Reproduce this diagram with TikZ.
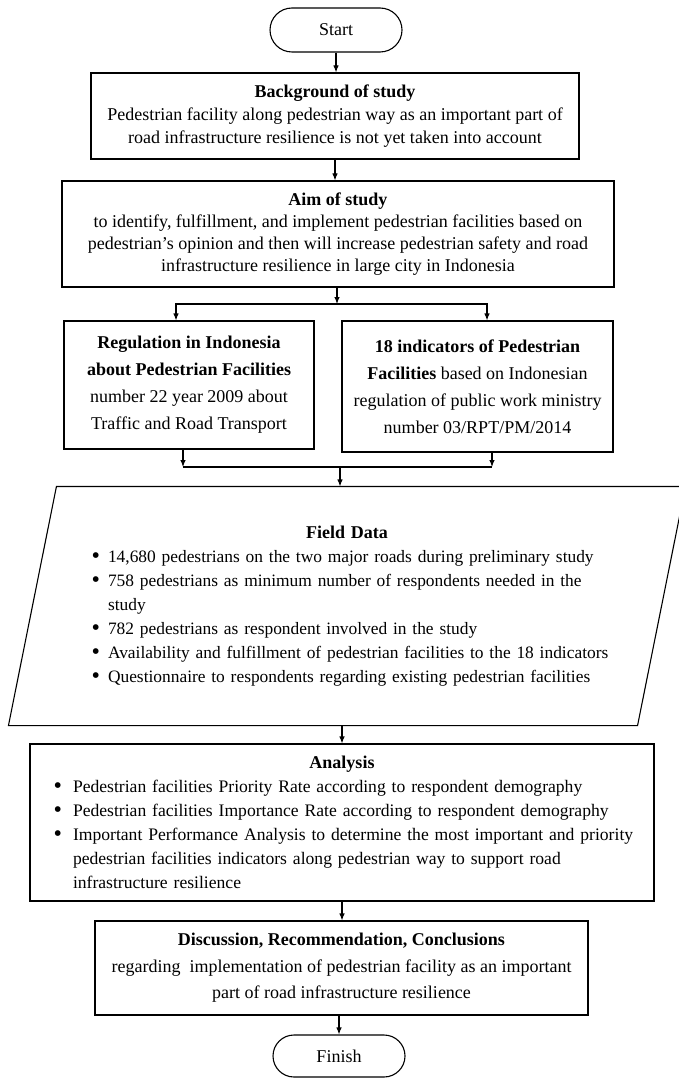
\documentclass[tikz,border=0pt]{standalone}
\usepackage{fontspec}
\setmainfont{Liberation Serif}
\usepackage{enumitem}
\usetikzlibrary{arrows.meta}
\newcommand{\bigdot}{\raisebox{-0.15ex}{\fontsize{24}{24}\selectfont\textbullet}}

\begin{document}
\begin{tikzpicture}[>={Latex[length=7pt,width=5.5pt]},x=1pt,y=-1pt,line width=1.1pt,
		box/.style={draw,rectangle,align=center,inner sep=0pt,font=\fontsize{18}{23}\selectfont},
		term/.style={draw,rounded corners=22pt,minimum width=132pt,minimum height=44pt,inner sep=0pt,font=\fontsize{18}{23}\selectfont}]
	\useasboundingbox (0,0) rectangle (679,1078);
	\node[term] (start) at (336,30) {Start};
	\node[box,minimum width=488pt,minimum height=86pt] (bg) at (335,116)
		{\textbf{Background of study}\\Pedestrian facility along pedestrian way as an important part of\\road infrastructure resilience is not yet taken into account};
	\node[box,minimum width=552pt,minimum height=106pt,font=\fontsize{18}{22}\selectfont] (aim) at (338,234)
		{\textbf{Aim of study}\\to identify, fulfillment, and implement pedestrian facilities based on\\pedestrian’s opinion and then will increase pedestrian safety and road\\infrastructure resilience in large city in Indonesia};
	\node[box,minimum width=250pt,minimum height=128pt,font=\fontsize{18}{27}\selectfont] (reg) at (189,385)
		{\textbf{Regulation in Indonesia}\\\textbf{about Pedestrian Facilities}\\number 22 year 2009 about\\Traffic and Road Transport};
	\node[box,minimum width=271pt,minimum height=131pt,font=\fontsize{18}{27}\selectfont] (ind) at (477.5,386.5)
		{\textbf{18 indicators of Pedestrian}\\\textbf{Facilities} based on Indonesian\\regulation of public work ministry\\number 03/RPT/PM/2014};
	% field data: parallelogram drawn from the node's corners
	\node[minimum width=628pt,minimum height=238pt,text width=530pt,inner sep=0pt,font=\fontsize{17.4}{24}\selectfont] (fd) at (347,606)
		{{\centering\fontsize{18}{24}\selectfont\textbf{Field Data}\par}\raggedright
		\begin{itemize}[nosep,leftmargin=26pt,labelsep=8pt,label=\bigdot]
			\item 14,680 pedestrians on the two major roads during preliminary study
			\item 758 pedestrians as minimum number of respondents needed in the\newline study
			\item 782 pedestrians as respondent involved in the study
			\item Availability and fulfillment of pedestrian facilities to the 18 indicators
			\item Questionnaire to respondents regarding existing pedestrian facilities
		\end{itemize}};
	\draw ([xshift=24pt]fd.north west)--([xshift=24pt]fd.north east)--([xshift=-24pt]fd.south east)--([xshift=-24pt]fd.south west)--cycle;
	\node[minimum width=624pt,minimum height=157pt,text width=604pt,inner sep=0pt,draw,font=\fontsize{17.6}{24}\selectfont] (ana) at (342,822.5)
		{{\centering\fontsize{18}{24}\selectfont\textbf{Analysis}\par}\raggedright
		\begin{itemize}[nosep,leftmargin=33pt,labelsep=11pt,label=\bigdot]
			\item Pedestrian facilities Priority Rate according to respondent demography
			\item Pedestrian facilities Importance Rate according to respondent demography
			\item Important Performance Analysis to determine the most important and priority\newline pedestrian facilities indicators along pedestrian way to support road\newline infrastructure resilience
		\end{itemize}};
	\node[box,minimum width=493pt,minimum height=94pt,font=\fontsize{18}{26.5}\selectfont] (dis) at (341.5,968)
		{\textbf{Discussion, Recommendation, Conclusions}\\regarding~ implementation of pedestrian facility as an important\\part of road infrastructure resilience};
	\node[term,minimum height=42pt,rounded corners=21pt] (fin) at (339,1056) {Finish};
	% connectors
	\coordinate (split) at (337,304);
	\coordinate (splitL) at (176,304);
	\coordinate (splitR) at (487,304);
	\coordinate (joinL) at (183,467);
	\coordinate (joinR) at (492,467);
	\coordinate (join) at (340,467);
	\draw[->] (start.south)--(start.south |- bg.north);
	\draw[->] (bg.south)--(bg.south |- aim.north);
	\draw[->] (split |- aim.south)--(split);
	\draw[<->] (splitL |- reg.north)--(splitL)--(splitR)--(splitR |- ind.north);
	\foreach \b/\c in {reg/joinL,ind/joinR}\draw[->] (\c |- \b.south)--(\c);
	\draw (joinL)--(joinR);
	\draw[->] (join)--(join |- fd.north);
	\draw[->] (ana.north |- fd.south)--(ana.north);
	\draw[->] (ana.south)--(ana.south |- dis.north);
	\draw[->] (fin.north |- dis.south)--(fin.north);
\end{tikzpicture}
\end{document}
